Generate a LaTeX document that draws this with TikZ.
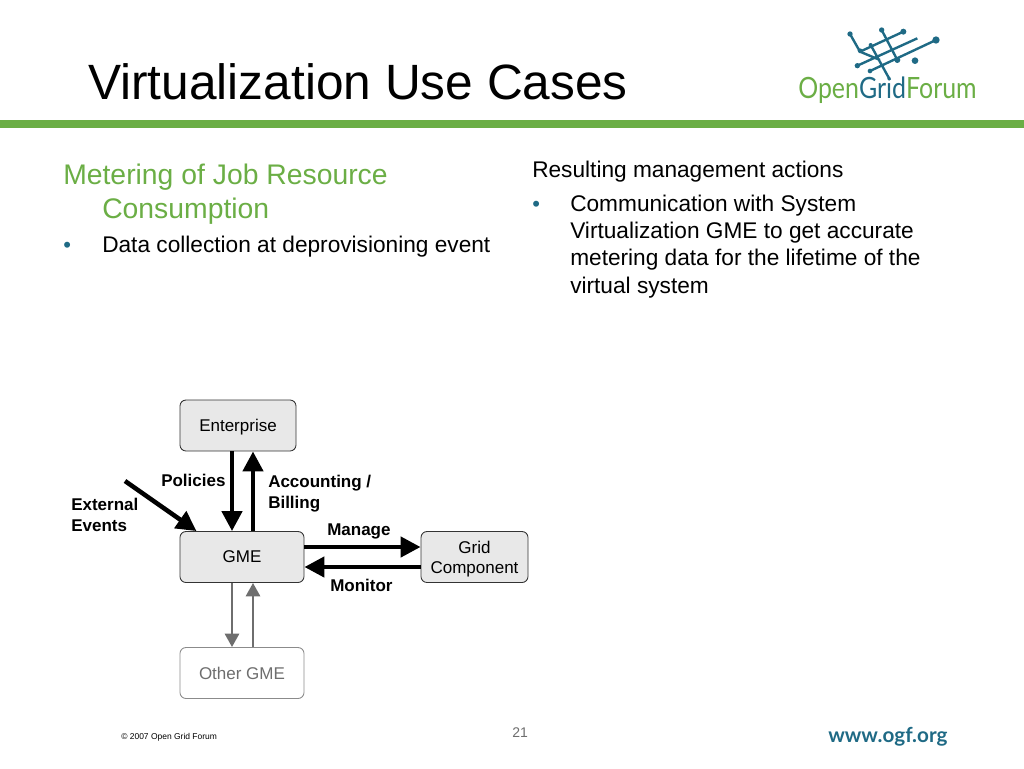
\documentclass[tikz,border=0pt]{standalone}
\usepackage{fontspec}
\setmainfont{Liberation Sans}
\newfontfamily\logofont[FakeStretch=0.85]{Lato}
\newfontfamily\webfont{Lato}
\usetikzlibrary{arrows.meta}
\definecolor{ogfgreen}{HTML}{6BAE45}
\definecolor{ogfblue}{HTML}{1F6A85}
\definecolor{boxgray}{HTML}{E8E8E8}
\definecolor{softgray}{HTML}{6E6E6E}
\tikzset{
  box/.style={draw=black!80,fill=boxgray,rounded corners=4.5pt,line width=0.65pt,inner sep=0pt,
    minimum height=38.25pt,align=center,text depth=0pt,font=\fontsize{12.75}{15.2}\selectfont},
  softbox/.style={box,draw=softgray!80,fill=white,text=softgray},
  lbl/.style={inner sep=0pt,align=left,anchor=base west,font=\fontsize{12.75}{15.4}\selectfont\bfseries},
  bodytext/.style={inner sep=0pt,anchor=base west,font=\fontsize{17}{20}\selectfont},
  headtext/.style={inner sep=0pt,anchor=base west,text=ogfgreen,font=\fontsize{21.25}{25}\selectfont},
  dotmark/.style={inner sep=0pt,anchor=base west,text=ogfblue,font=\fontsize{16.5}{20}\selectfont},
  bigarrow/.style={line width=3.4pt,-{Triangle[length=15pt,width=15pt]}},
  softarrow/.style={line width=2pt,softgray,-{Triangle[length=10pt,width=10.5pt]}},
}
\begin{document}
\begin{tikzpicture}[x=0.75pt,y=-0.75pt]
  \useasboundingbox (0,0) rectangle (1024,768);
  \fill[ogfgreen] (0,120) rectangle (1024,128);
  \node[inner sep=0pt,anchor=base west,font=\fontsize{37.2}{40}\selectfont] (title) at (88,99) {Virtualization Use Cases};

  % logo
  \begin{scope}[shift={(780,10)},x=0.25pt,y=-0.25pt]
    \draw[ogfblue,line width=1.8pt] (210,72) -- (240,125) -- (370,65);
    \draw[ogfblue,line width=1.8pt] (232,167) -- (412,85);
    \draw[ogfblue,line width=1.8pt] (270,183) -- (468,90);
    \draw[ogfblue,line width=1.8pt] (240,125) -- (300,150) (272,105) -- (330,210);
    \draw[ogfblue,line width=1.8pt] (305,60) -- (352,150);
    \foreach \dx/\dy/\dr in {210/72/8, 305/60/8, 370/65/9, 468/90/11, 405/152/10, 232/167/8, 270/183/7, 352/150/9, 240/122/7, 272/105/6}{
      \fill[ogfblue] (\dx,\dy) circle (\dr);
    }
  \end{scope}
  \node[inner sep=0pt,anchor=base west,font=\logofont\fontsize{22}{26}\selectfont] (logotext) at (798,98)
    {\textcolor{ogfgreen}{Open}\textcolor{ogfblue}{Grid}\textcolor{ogfgreen}{Forum}};

  % left column
  \node[headtext] (headone) at (63,184) {Metering of Job Resource};
  \node[headtext] (headtwo) at (102,218) {Consumption};
  \node[dotmark] (dotleft) at (63,252) {•};
  \node[bodytext] (dataline) at (102,252) {Data collection at deprovisioning event};

  % right column
  \node[bodytext] (resline) at (532,177) {Resulting management actions};
  \node[dotmark] (dotright) at (532,211) {•};
  \node[bodytext] (commone) at (570,211) {Communication with System};
  \node[bodytext] (commtwo) at (570,238) {Virtualization GME to get accurate};
  \node[bodytext] (commthree) at (570,265) {metering data for the lifetime of the};
  \node[bodytext] (commfour) at (570,293) {virtual system};

  % boxes
  \node[box,minimum width=87pt] (enterprise) at (238,425.5) {Enterprise};
  \node[box,minimum width=93pt] (gme) at (242,557) {GME};
  \node[box,minimum width=80.25pt] (grid) at (474.5,557) {Grid\\Component};
  \node[softbox,minimum width=93pt] (other) at (242,673) {Other GME};

  \coordinate (downx) at (232,0);
  \coordinate (upx) at (253,0);
  \coordinate (topy) at (0,547);
  \coordinate (boty) at (0,567);
  \coordinate (extstart) at (125,481);

  \draw[bigarrow] (enterprise.south -| downx) -- (gme.north -| downx);
  \draw[bigarrow] (gme.north -| upx) -- (enterprise.south -| upx);
  \draw[bigarrow] (extstart) -- ([xshift=12.75pt]gme.north west);
  \draw[bigarrow] (gme.east |- topy) -- (grid.west |- topy);
  \draw[bigarrow] (grid.west |- boty) -- (gme.east |- boty);
  \draw[softarrow] (gme.south -| downx) -- (other.north -| downx);
  \draw[softarrow] (other.north -| upx) -- (gme.south -| upx);

  % labels
  \node[lbl] (policies) at (161,486) {Policies};
  \node[lbl] (accounting) at (268,508) {Accounting /\\Billing};
  \node[lbl] (external) at (71,531) {External\\Events};
  \node[lbl] (manage) at (327,535) {Manage};
  \node[lbl] (monitor) at (330,591) {Monitor};

  % footer
  \node[inner sep=0pt,anchor=base west,font=\fontsize{6.35}{8}\selectfont] (copyright) at (121,739) {© 2007 Open Grid Forum};
  \node[inner sep=0pt,anchor=base west,text=softgray,font=\fontsize{10.5}{12}\selectfont] (pagenum) at (512,737) {21};
  \node[inner sep=0pt,anchor=base west,text=ogfblue,font=\webfont\bfseries\fontsize{15.5}{18}\selectfont] (website) at (828,742) {www.ogf.org};
\end{tikzpicture}
\end{document}
